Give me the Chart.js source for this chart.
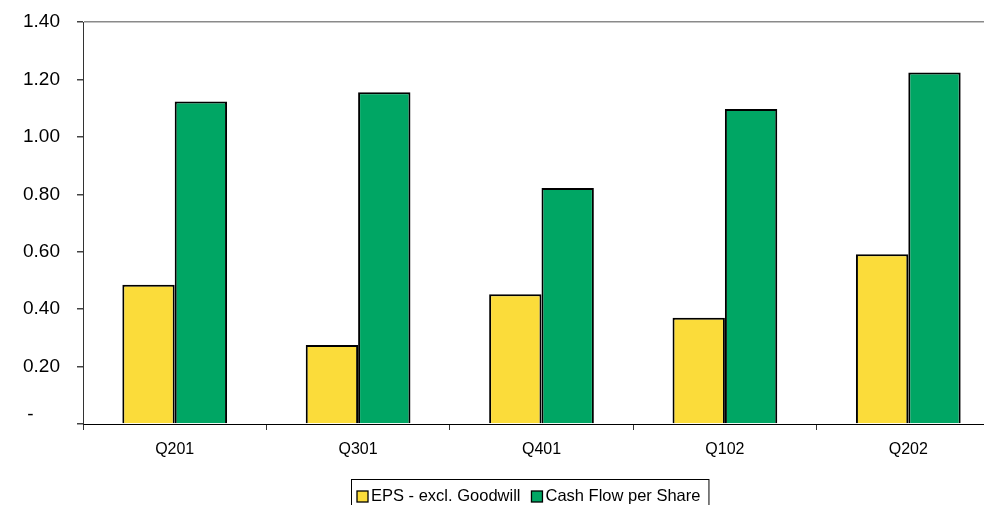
<!DOCTYPE html>
<html>
<head>
<meta charset="utf-8">
<script src="https://cdn.jsdelivr.net/npm/chart.js@4/dist/chart.umd.min.js"></script>
<style>
  html, body { margin: 0; padding: 0; background: #fff; overflow: hidden; }
  #wrap { position: relative; width: 1000px; height: 520px; }
</style>
</head>
<body>
<div id="wrap"><canvas id="c" width="1000" height="520"></canvas></div>
<script>
// Quarterly per-share figures
const categories = ['Q201', 'Q301', 'Q401', 'Q102', 'Q202'];
const epsExGoodwill = [0.485, 0.275, 0.452, 0.370, 0.591];
const cashFlowPerShare = [1.123, 1.155, 0.822, 1.097, 1.224];
const yTicks = [0, 0.2, 0.4, 0.6, 0.8, 1.0, 1.2, 1.4];

const FONT = '"Liberation Sans", Arial, Helvetica, sans-serif';

// Boxed legend drawn under the plot
const boxedLegend = {
  id: 'boxedLegend',
  afterDraw(chart) {
    const ctx = chart.ctx;
    const ds = chart.data.datasets;
    ctx.save();
    ctx.font = '16.5px ' + FONT;
    ctx.textBaseline = 'middle';
    const left = 351, top = 479, cy = 496.5, sw = 11;
    let x = left + 6;
    ds.forEach((d, i) => {
      ctx.fillStyle = d.backgroundColor;
      ctx.fillRect(x, cy - sw / 2, sw, sw);
      ctx.strokeStyle = '#000';
      ctx.lineWidth = 1.3;
      ctx.strokeRect(x, cy - sw / 2, sw, sw);
      x += sw + 3;
      ctx.fillStyle = '#000';
      ctx.fillText(d.label, x, cy);
      x += ctx.measureText(d.label).width + (i < ds.length - 1 ? 11 : 8);
    });
    ctx.strokeStyle = '#000';
    ctx.lineWidth = 1;
    ctx.strokeRect(left + 0.5, top + 0.5, x - left, 60);
    ctx.restore();
  }
};

new Chart(document.getElementById('c'), {
  type: 'bar',
  data: {
    labels: categories,
    datasets: [
      {
        label: 'EPS - excl. Goodwill',
        data: epsExGoodwill,
        backgroundColor: '#FBDC3A',
        borderColor: '#000',
        borderWidth: 2,
        borderSkipped: 'bottom'
      },
      {
        label: 'Cash Flow per Share',
        data: cashFlowPerShare,
        backgroundColor: '#00A664',
        borderColor: '#000',
        borderWidth: 2,
        borderSkipped: 'bottom'
      }
    ]
  },
  options: {
    responsive: false,
    animation: false,
    layout: { padding: { top: 22, bottom: 46, left: 0, right: 0 } },
    datasets: { bar: { categoryPercentage: 0.571, barPercentage: 1.0 } },
    plugins: {
      legend: { display: false },
      tooltip: { enabled: false }
    },
    scales: {
      x: {
        grid: {
          offset: true,
          drawOnChartArea: false,
          tickLength: 6,
          tickColor: '#333'
        },
        border: { color: '#000', width: 1 },
        ticks: {
          color: '#000',
          font: { family: FONT, size: 16 },
          padding: 10,
          maxRotation: 0
        },
        afterFit(s) { s.height = 50; }
      },
      y: {
        min: 0,
        max: 1.4,
        afterBuildTicks(s) { s.ticks = yTicks.map(v => ({ value: v })); },
        grid: {
          drawOnChartArea: true,
          color: c => (c.tick && Math.abs(c.tick.value - 1.4) < 1e-9) ? '#8a8a8a' : 'rgba(0,0,0,0)',
          lineWidth: 1.5,
          tickLength: 6,
          tickColor: '#444'
        },
        border: { color: '#333', width: 1 },
        ticks: {
          color: '#000',
          font: { family: FONT, size: 19, lineHeight: 1.0 },
          padding: 17,
          callback: v => v === 0 ? ['-     ', ''] : v.toFixed(2)
        },
        afterFit(s) {
          s.width = 83;
          s.paddingTop = 0;
          s.paddingBottom = 0;
        }
      }
    }
  },
  plugins: [boxedLegend]
});
</script>
</body>
</html>
